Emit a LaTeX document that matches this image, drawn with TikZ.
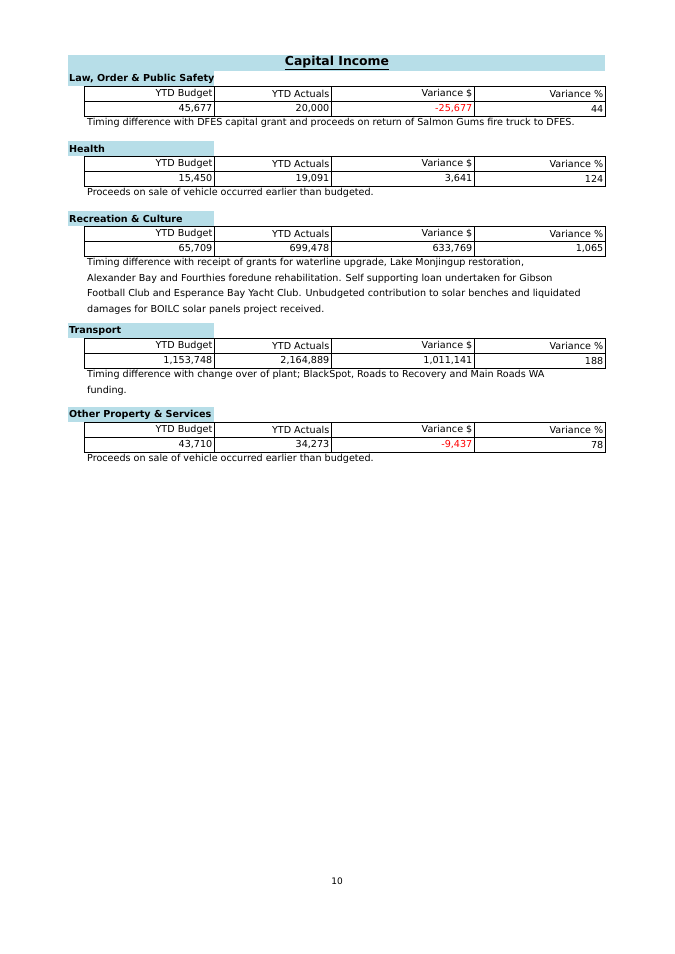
\documentclass[tikz,border=0pt]{standalone}
\usepackage{fontspec}
\setmainfont{DejaVu Sans}
\definecolor{band}{RGB}{183,222,232}
\definecolor{vred}{RGB}{255,0,0}
\begin{document}
\begin{tikzpicture}[x=1pt,y=-1pt,
  txt/.style={font=\fontsize{9.6}{10}\selectfont,inner sep=1.5pt},
  lab/.style={font=\fontsize{9.6}{10}\selectfont\bfseries,anchor=west,inner sep=1pt},
  note/.style={font=\fontsize{9.6}{15.5}\selectfont,anchor=north west,inner sep=0pt,align=left},
  cell/.style={draw=black,line width=0.8pt}]
\useasboundingbox (0,0) rectangle (675,954);
\fill[white] (0,0) rectangle (675,954);
\fill[band] (68,55) rectangle (605,71);
\node[font=\fontsize{12.4}{14}\selectfont\bfseries,inner sep=0pt] (title) at (337,63) {\underline{Capital Income}};
\newcommand{\sect}[8]{%
  \fill[band] (68,#1) rectangle (214,#1+14.5);
  \node[lab] (#2l) at (68,#1+7.5) {#3};
  \foreach \a/\b in {84/214,214/331,331/474,474/605}{
    \draw[cell] (\a,#1+15) rectangle (\b,#1+30);
    \draw[cell] (\a,#1+30) rectangle (\b,#1+45);}
  \node[txt,anchor=east] (#2h1) at (214,#1+22.5) {YTD Budget};
  \node[txt,anchor=east] (#2h2) at (331,#1+22.5) {YTD Actuals};
  \node[txt,anchor=east] (#2h3) at (474,#1+22.5) {Variance \$};
  \node[txt,anchor=east] (#2h4) at (605,#1+22.5) {Variance \%};
  \node[txt,anchor=east] (#2v1) at (214,#1+37.5) {#4};
  \node[txt,anchor=east] (#2v2) at (331,#1+37.5) {#5};
  \node[txt,anchor=east] (#2v3) at (474,#1+37.5) {#6};
  \node[txt,anchor=east] (#2v4) at (605,#1+37.5) {#7};
  \node[note] (#2n) at (87,#1+47) {#8};}
\sect{71}{a}{Law, Order \& Public Safety}{45,677}{20,000}{\textcolor{vred}{-25,677}}{44}{Timing difference with DFES capital grant and proceeds on return of Salmon Gums fire truck to DFES.}
\sect{141}{b}{Health}{15,450}{19,091}{3,641}{124}{Proceeds on sale of vehicle occurred earlier than budgeted.}
\sect{211}{c}{Recreation \& Culture}{65,709}{699,478}{633,769}{1,065}{Timing difference with receipt of grants for waterline upgrade, Lake Monjingup restoration,\\Alexander Bay and Fourthies foredune rehabilitation. Self supporting loan undertaken for Gibson\\Football Club and Esperance Bay Yacht Club. Unbudgeted contribution to solar benches and liquidated\\damages for BOILC solar panels project received.}
\sect{323}{d}{Transport}{1,153,748}{2,164,889}{1,011,141}{188}{Timing difference with change over of plant; BlackSpot, Roads to Recovery and Main Roads WA\\funding.}
\sect{407}{e}{Other Property \& Services}{43,710}{34,273}{\textcolor{vred}{-9,437}}{78}{Proceeds on sale of vehicle occurred earlier than budgeted.}
\node[font=\fontsize{9}{10}\selectfont,inner sep=0pt] (pg) at (337,881) {10};
\end{tikzpicture}
\end{document}
